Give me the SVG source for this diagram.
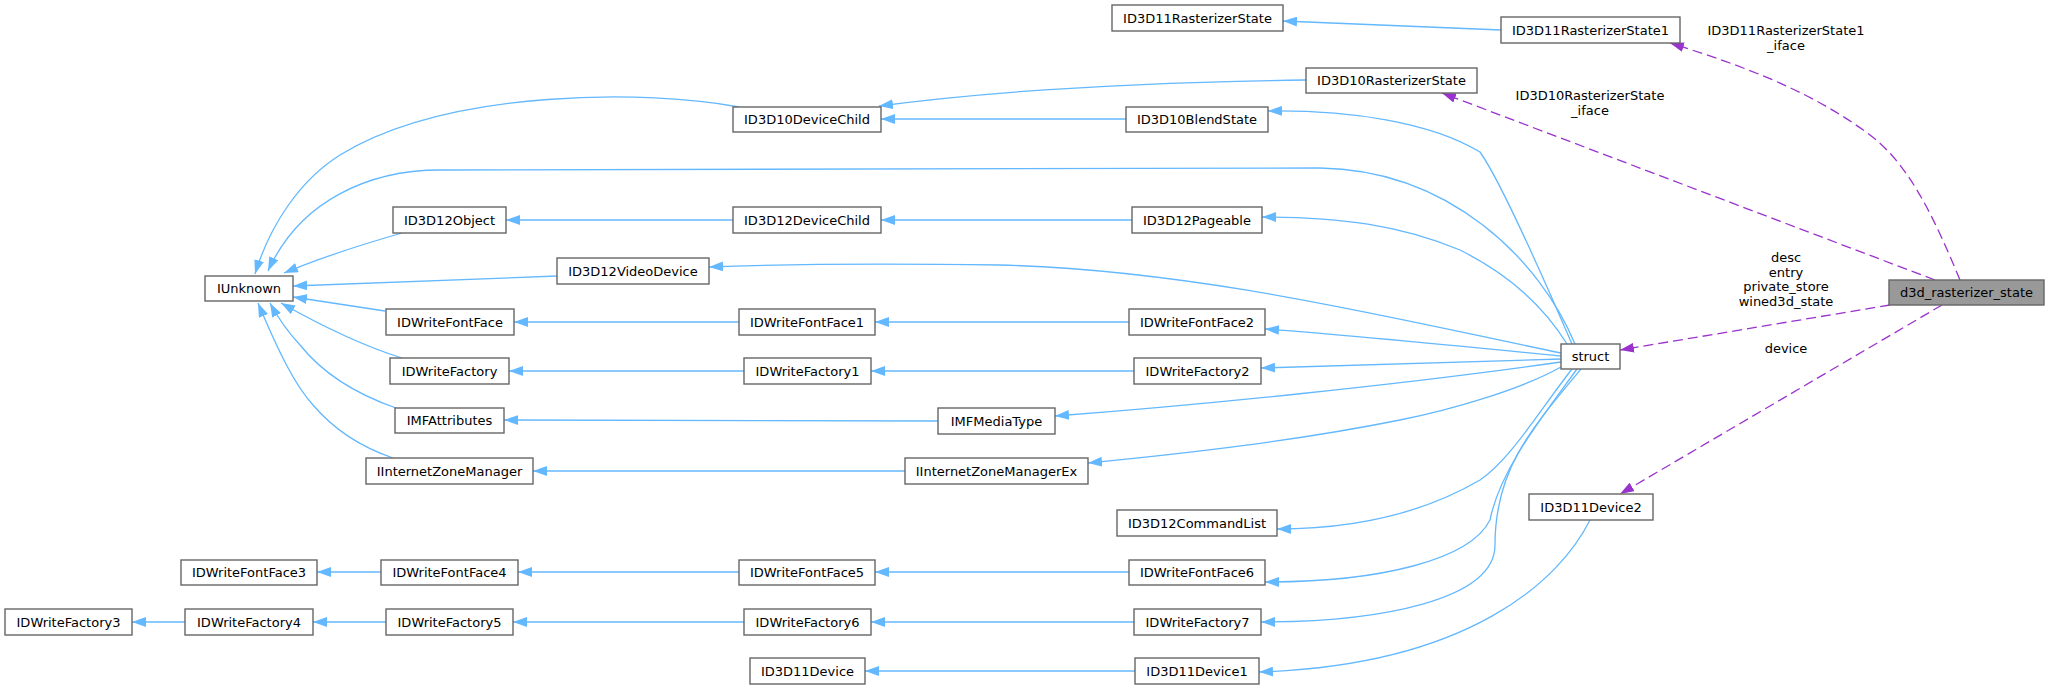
<svg xmlns="http://www.w3.org/2000/svg" width="2049" height="689" viewBox="0 0 2049 689">
<style>
.n rect{fill:#fff;stroke:#666;stroke-width:1.4}
.n.root rect{fill:#999}
text{font-family:"DejaVu Sans",sans-serif;font-size:13px;fill:#000;text-anchor:middle}
.e{fill:none;stroke:#63b8ff;stroke-width:1.3;marker-end:url(#ab)}
.p{fill:none;stroke:#9a32cd;stroke-width:1.3;stroke-dasharray:10,5;marker-end:url(#ap)}
</style>
<defs>
<marker id="ab" viewBox="0 0 10 7" refX="10" refY="3.5" markerWidth="14" markerHeight="10" markerUnits="userSpaceOnUse" orient="auto"><path d="M0,0 L10,3.5 L0,7 z" fill="#63b8ff"/></marker>
<marker id="ap" viewBox="0 0 10 7" refX="10" refY="3.5" markerWidth="14" markerHeight="10" markerUnits="userSpaceOnUse" orient="auto"><path d="M0,0 L10,3.5 L0,7 z" fill="#9a32cd"/></marker>
</defs>
<rect width="2049" height="689" fill="#fff"/>
<g id="connectors">
<path class="e" d="M1501,30 L1283,21"/>
<path class="e" d="M1306,80 C1150,82 1000,90 879,106"/>
<path class="e" d="M1126,119 L881,119"/>
<path class="e" d="M739,107 C650,90 450,88 340,155 C300,180 270,225 255,274"/>
<path class="e" d="M1575,344 C1540,260 1450,170 1320,168 L440,170 C370,170 300,200 268,271"/>
<path class="e" d="M1572,344 C1540,270 1500,180 1480,152 C1430,122 1350,110 1268,111"/>
<path class="e" d="M1567,344 C1540,300 1500,270 1460,250 C1400,225 1340,217 1262,217"/>
<path class="e" d="M1132,220 L881,220"/>
<path class="e" d="M733,220 L506,220"/>
<path class="e" d="M402,233 C360,245 320,258 284,273"/>
<path class="e" d="M557,276 L293,286"/>
<path class="e" d="M1561,353 C1400,320 1200,270 1000,265 C850,263 760,265 709,267"/>
<path class="e" d="M385,311 L293,297"/>
<path class="e" d="M739,322 L514,322"/>
<path class="e" d="M1129,322 L875,322"/>
<path class="e" d="M1561,356 C1450,345 1350,335 1265,329"/>
<path class="e" d="M402,358 C360,345 320,325 281,303"/>
<path class="e" d="M744,371 L509,371"/>
<path class="e" d="M1134,371 L871,371"/>
<path class="e" d="M1561,359 L1261,368"/>
<path class="e" d="M396,408 C350,392 320,370 300,345 C288,332 278,318 270,303"/>
<path class="e" d="M938,421 L504,420"/>
<path class="e" d="M1561,362 C1400,385 1200,405 1055,416"/>
<path class="e" d="M393,458 C355,445 330,425 313,405 C295,385 280,355 258,303"/>
<path class="e" d="M905,471 L533,471"/>
<path class="e" d="M1561,367 C1520,390 1450,410 1400,420 C1300,440 1200,452 1088,463"/>
<path class="e" d="M1572,369 C1540,410 1510,460 1480,480 C1420,515 1350,529 1277,529"/>
<path class="e" d="M1577,369 C1540,420 1500,470 1490,520 C1470,560 1380,582 1265,582"/>
<path class="e" d="M1581,369 C1530,430 1495,470 1495,545 C1495,600 1380,622 1261,622"/>
<path class="e" d="M1590,520 C1560,580 1470,665 1259,672"/>
<path class="e" d="M1135,671 L865,671"/>
<path class="e" d="M1129,572 L875,572"/>
<path class="e" d="M739,572 L518,572"/>
<path class="e" d="M381,572 L317,572"/>
<path class="e" d="M1134,622 L871,622"/>
<path class="e" d="M744,622 L513,622"/>
<path class="e" d="M386,622 L313,622"/>
<path class="e" d="M185,622 L132,622"/>
<path class="p" d="M1960,280 C1935,220 1910,165 1870,135 C1810,90 1740,65 1670,43"/>
<path class="p" d="M1935,280 L1442,93"/>
<path class="p" d="M1890,305 L1620,350"/>
<path class="p" d="M1942,305 L1620,494"/>
<text x="1786" y="35">ID3D11RasterizerState1</text>
<text x="1786" y="50">_iface</text>
<text x="1590" y="100">ID3D10RasterizerState</text>
<text x="1590" y="115">_iface</text>
<text x="1786" y="262">desc</text>
<text x="1786" y="277">entry</text>
<text x="1786" y="291">private_store</text>
<text x="1786" y="306">wined3d_state</text>
<text x="1786" y="353">device</text>
</g>
<g id="n1" class="n"><rect x="1112" y="5" width="171" height="26"/><text x="1197.5" y="22.5">ID3D11RasterizerState</text></g>
<g id="n2" class="n"><rect x="1501" y="17" width="179" height="26"/><text x="1590.5" y="34.5">ID3D11RasterizerState1</text></g>
<g id="n3" class="n"><rect x="1306" y="68" width="171" height="25"/><text x="1391.5" y="85">ID3D10RasterizerState</text></g>
<g id="n4" class="n"><rect x="733" y="107" width="148" height="25"/><text x="807" y="124">ID3D10DeviceChild</text></g>
<g id="n5" class="n"><rect x="1126" y="107" width="142" height="25"/><text x="1197" y="124">ID3D10BlendState</text></g>
<g id="n6" class="n"><rect x="393" y="207" width="113" height="26"/><text x="449.5" y="224.5">ID3D12Object</text></g>
<g id="n7" class="n"><rect x="733" y="207" width="148" height="26"/><text x="807" y="224.5">ID3D12DeviceChild</text></g>
<g id="n8" class="n"><rect x="1132" y="207" width="130" height="26"/><text x="1197" y="224.5">ID3D12Pageable</text></g>
<g id="n9" class="n"><rect x="557" y="258" width="152" height="26"/><text x="633" y="275.5">ID3D12VideoDevice</text></g>
<g id="n10" class="n"><rect x="205" y="276" width="88" height="25"/><text x="249" y="293">IUnknown</text></g>
<g id="n11" class="n"><rect x="386" y="309" width="128" height="26"/><text x="450" y="326.5">IDWriteFontFace</text></g>
<g id="n12" class="n"><rect x="739" y="309" width="136" height="26"/><text x="807" y="326.5">IDWriteFontFace1</text></g>
<g id="n13" class="n"><rect x="1129" y="309" width="136" height="26"/><text x="1197" y="326.5">IDWriteFontFace2</text></g>
<g id="n14" class="n"><rect x="390" y="358" width="119" height="26"/><text x="449.5" y="375.5">IDWriteFactory</text></g>
<g id="n15" class="n"><rect x="744" y="358" width="127" height="26"/><text x="807.5" y="375.5">IDWriteFactory1</text></g>
<g id="n16" class="n"><rect x="1134" y="358" width="127" height="26"/><text x="1197.5" y="375.5">IDWriteFactory2</text></g>
<g id="n17" class="n"><rect x="395" y="408" width="109" height="25"/><text x="449.5" y="425">IMFAttributes</text></g>
<g id="n18" class="n"><rect x="938" y="408" width="117" height="26"/><text x="996.5" y="425.5">IMFMediaType</text></g>
<g id="n19" class="n"><rect x="366" y="458" width="167" height="26"/><text x="449.5" y="475.5">IInternetZoneManager</text></g>
<g id="n20" class="n"><rect x="905" y="458" width="183" height="26"/><text x="996.5" y="475.5">IInternetZoneManagerEx</text></g>
<g id="n21" class="n"><rect x="1561" y="344" width="59" height="25"/><text x="1590.5" y="361">struct</text></g>
<g id="n22" class="n root"><rect x="1889" y="280" width="155" height="25"/><text x="1966.5" y="297">d3d_rasterizer_state</text></g>
<g id="n23" class="n"><rect x="1529" y="494" width="124" height="26"/><text x="1591" y="511.5">ID3D11Device2</text></g>
<g id="n24" class="n"><rect x="1117" y="510" width="160" height="26"/><text x="1197" y="527.5">ID3D12CommandList</text></g>
<g id="n25" class="n"><rect x="181" y="560" width="136" height="25"/><text x="249" y="577">IDWriteFontFace3</text></g>
<g id="n26" class="n"><rect x="381" y="560" width="137" height="25"/><text x="449.5" y="577">IDWriteFontFace4</text></g>
<g id="n27" class="n"><rect x="739" y="560" width="136" height="25"/><text x="807" y="577">IDWriteFontFace5</text></g>
<g id="n28" class="n"><rect x="1129" y="560" width="136" height="25"/><text x="1197" y="577">IDWriteFontFace6</text></g>
<g id="n29" class="n"><rect x="5" y="609" width="127" height="26"/><text x="68.5" y="626.5">IDWriteFactory3</text></g>
<g id="n30" class="n"><rect x="185" y="609" width="128" height="26"/><text x="249" y="626.5">IDWriteFactory4</text></g>
<g id="n31" class="n"><rect x="386" y="609" width="127" height="26"/><text x="449.5" y="626.5">IDWriteFactory5</text></g>
<g id="n32" class="n"><rect x="744" y="609" width="127" height="26"/><text x="807.5" y="626.5">IDWriteFactory6</text></g>
<g id="n33" class="n"><rect x="1134" y="609" width="127" height="26"/><text x="1197.5" y="626.5">IDWriteFactory7</text></g>
<g id="n34" class="n"><rect x="750" y="658" width="115" height="26"/><text x="807.5" y="675.5">ID3D11Device</text></g>
<g id="n35" class="n"><rect x="1135" y="658" width="124" height="26"/><text x="1197" y="675.5">ID3D11Device1</text></g>
</svg>
